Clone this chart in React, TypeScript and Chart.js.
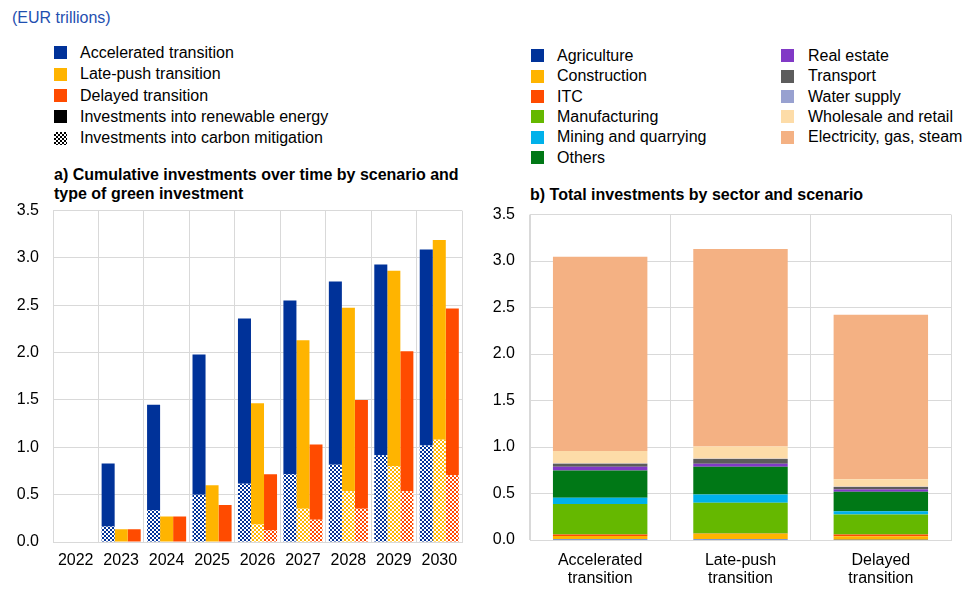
import React, { useEffect, useRef } from "react";
import { Chart, registerables } from "chart.js";

Chart.register(...registerables);

// ---------- Panel a data ----------
const years = ["2022", "2023", "2024", "2025", "2026", "2027", "2028", "2029", "2030"];
const accelCarbon = [0, 0.165, 0.335, 0.5, 0.615, 0.715, 0.815, 0.915, 1.02];
const accelRenewable = [0, 0.665, 1.115, 1.48, 1.745, 1.835, 1.935, 2.015, 2.07];
const lateCarbon = [0, 0, 0, 0, 0.185, 0.35, 0.535, 0.8, 1.08];
const lateRenewable = [0, 0.135, 0.27, 0.6, 1.28, 1.78, 1.94, 2.065, 2.11];
const delayedCarbon = [0, 0, 0, 0, 0.125, 0.235, 0.35, 0.535, 0.705];
const delayedRenewable = [0, 0.135, 0.27, 0.39, 0.59, 0.795, 1.15, 1.48, 1.76];

// ---------- Panel b data ----------
const scenarios = [["Accelerated", "transition"], ["Late-push", "transition"], ["Delayed", "transition"]];
const agriculture = [0.011, 0.012, 0.004];
const construction = [0.032, 0.055, 0.036];
const itc = [0.017, 0.003, 0.018];
const manufacturing = [0.327, 0.33, 0.217];
const mining = [0.067, 0.089, 0.035];
const others = [0.294, 0.3, 0.208];
const realEstate = [0.039, 0.032, 0.024];
const transport = [0.032, 0.049, 0.028];
const waterSupply = [0.003, 0.003, 0.003];
const wholesale = [0.135, 0.132, 0.081];
const electricity = [2.09, 2.125, 1.768];

const yTicks = [0, 0.5, 1, 1.5, 2, 2.5, 3, 3.5];

const BLUE = "#003299";
const YELLOW = "#ffb400";
const RED = "#ff4b00";
const FONT = "'Liberation Sans', Arial, Helvetica, sans-serif";
const GRID = "#d9d9d9";

function checker(color: string): CanvasPattern | string {
  const c = document.createElement("canvas");
  c.width = 4;
  c.height = 4;
  const ctx = c.getContext("2d");
  if (!ctx) return color;
  ctx.fillStyle = "#ffffff";
  ctx.fillRect(0, 0, 4, 4);
  ctx.fillStyle = color;
  ctx.fillRect(0, 0, 2, 2);
  ctx.fillRect(2, 2, 2, 2);
  const p = ctx.createPattern(c, "repeat");
  return p || color;
}

function yScale(width: number, padding: number) {
  return {
    stacked: true,
    min: 0,
    max: 3.5,
    afterBuildTicks: (s: any) => {
      s.ticks = yTicks.map((v) => ({ value: v }));
    },
    afterFit: (s: any) => {
      s.width = width;
    },
    ticks: {
      padding,
      color: "#000",
      font: { family: FONT, size: 16 },
      callback: (v: any) => Number(v).toFixed(1),
    },
    grid: { color: GRID, lineWidth: 1, drawTicks: false },
    border: { color: GRID, width: 1 },
  };
}

function xScale(height: number, padding: number) {
  return {
    stacked: true,
    afterFit: (s: any) => {
      s.height = height;
    },
    ticks: {
      padding,
      color: "#000",
      maxRotation: 0,
      autoSkip: false,
      font: { family: FONT, size: 16, lineHeight: 1.12 },
    },
    grid: { color: GRID, lineWidth: 1, drawTicks: false, offset: true },
    border: { color: GRID, width: 1 },
  };
}

function PanelA() {
  const ref = useRef<HTMLCanvasElement>(null);
  useEffect(() => {
    if (!ref.current) return;
    const mk = (label: string, data: number[], bg: any, stack: string) => ({
      label,
      data,
      backgroundColor: bg,
      stack,
      borderWidth: 0,
      barPercentage: 1,
      categoryPercentage: 0.86,
    });
    const chart = new Chart(ref.current, {
      type: "bar",
      data: {
        labels: years,
        datasets: [
          mk("Accelerated – carbon mitigation", accelCarbon, checker(BLUE), "acc"),
          mk("Accelerated – renewable energy", accelRenewable, BLUE, "acc"),
          mk("Late-push – carbon mitigation", lateCarbon, checker(YELLOW), "late"),
          mk("Late-push – renewable energy", lateRenewable, YELLOW, "late"),
          mk("Delayed – carbon mitigation", delayedCarbon, checker(RED), "del"),
          mk("Delayed – renewable energy", delayedRenewable, RED, "del"),
        ],
      },
      options: {
        animation: false,
        responsive: false,
        devicePixelRatio: 1,
        layout: { padding: { top: 9, right: 8, left: 0, bottom: 0 } },
        plugins: { legend: { display: false }, tooltip: { enabled: false } },
        scales: { x: xScale(61, 10), y: yScale(53, 14) } as any,
      },
    });
    return () => chart.destroy();
  }, []);
  return <canvas ref={ref} width={470} height={416} style={{ position: "absolute", left: 0, top: 187 }} />;
}

function PanelB() {
  const ref = useRef<HTMLCanvasElement>(null);
  useEffect(() => {
    if (!ref.current) return;
    const mk = (label: string, data: number[], bg: string) => ({
      label,
      data,
      backgroundColor: bg,
      borderWidth: 0,
      barPercentage: 0.673,
      categoryPercentage: 1,
    });
    const chart = new Chart(ref.current, {
      type: "bar",
      data: {
        labels: scenarios as any,
        datasets: [
          mk("Agriculture", agriculture, "#003299"),
          mk("Construction", construction, "#ffb400"),
          mk("ITC", itc, "#ff4b00"),
          mk("Manufacturing", manufacturing, "#65b800"),
          mk("Mining and quarrying", mining, "#00b1ea"),
          mk("Others", others, "#007816"),
          mk("Real estate", realEstate, "#8139c6"),
          mk("Transport", transport, "#5c5c5c"),
          mk("Water supply", waterSupply, "#98a1d0"),
          mk("Wholesale and retail", wholesale, "#fddca8"),
          mk("Electricity, gas, steam", electricity, "#f4b183"),
        ],
      },
      options: {
        animation: false,
        responsive: false,
        devicePixelRatio: 1,
        layout: { padding: { top: 9, right: 23, left: 0, bottom: 0 } },
        plugins: { legend: { display: false }, tooltip: { enabled: false } },
        scales: { x: xScale(63, 12), y: yScale(50, 15) } as any,
      },
    });
    return () => chart.destroy();
  }, []);
  return <canvas ref={ref} width={494} height={413} style={{ position: "absolute", left: 480, top: 190 }} />;
}

const legendA = [
  { label: "Accelerated transition", bg: BLUE },
  { label: "Late-push transition", bg: YELLOW },
  { label: "Delayed transition", bg: RED },
  { label: "Investments into renewable energy", bg: "#000" },
  {
    label: "Investments into carbon mitigation",
    bg: "repeating-conic-gradient(#000 0 25%, #fff 0 50%) 0 0 / 4px 4px",
  },
];

const legendB1 = [
  { label: "Agriculture", bg: "#003299" },
  { label: "Construction", bg: "#ffb400" },
  { label: "ITC", bg: "#ff4b00" },
  { label: "Manufacturing", bg: "#65b800" },
  { label: "Mining and quarrying", bg: "#00b1ea" },
  { label: "Others", bg: "#007816" },
];
const legendB2 = [
  { label: "Real estate", bg: "#8139c6" },
  { label: "Transport", bg: "#5c5c5c" },
  { label: "Water supply", bg: "#98a1d0" },
  { label: "Wholesale and retail", bg: "#fddca8" },
  { label: "Electricity, gas, steam", bg: "#f4b183" },
];

function Legend({ items, left, top, gap, textLeft }: any) {
  return (
    <>
      {items.map((it: any, i: number) => (
        <div
          key={it.label}
          style={{ position: "absolute", left, top: top + i * gap - 10, height: 20, width: 300 }}
        >
          <div
            style={{
              position: "absolute",
              left: 0,
              top: 3.5,
              width: 13,
              height: 13,
              background: it.bg,
            }}
          />
          <div
            style={{
              position: "absolute",
              left: textLeft,
              top: 0,
              lineHeight: "20px",
              fontSize: 16,
              whiteSpace: "nowrap",
              color: "#000",
            }}
          >
            {it.label}
          </div>
        </div>
      ))}
    </>
  );
}

export default function App() {
  return (
    <div
      style={{
        position: "fixed",
        left: 0,
        top: 0,
        width: 974,
        height: 603,
        background: "#fff",
        fontFamily: FONT,
        overflow: "hidden",
      }}
    >
      <div style={{ position: "absolute", left: 12, top: 8, fontSize: 16, lineHeight: "20px", color: "#1f4fb0" }}>
        (EUR trillions)
      </div>
      <Legend items={legendA} left={54} top={52.7} gap={21.4} textLeft={26} />
      <div
        style={{
          position: "absolute",
          left: 54,
          top: 165,
          fontSize: 16,
          lineHeight: "19px",
          fontWeight: "bold",
          color: "#000",
          whiteSpace: "nowrap",
        }}
      >
        a) Cumulative investments over time by scenario and
        <br />
        type of green investment
      </div>
      <Legend items={legendB1} left={531} top={55.7} gap={20.4} textLeft={26} />
      <Legend items={legendB2} left={781} top={55.7} gap={20.4} textLeft={27} />
      <div
        style={{
          position: "absolute",
          left: 530,
          top: 185,
          fontSize: 16,
          lineHeight: "20px",
          fontWeight: "bold",
          color: "#000",
          whiteSpace: "nowrap",
        }}
      >
        b) Total investments by sector and scenario
      </div>
      <PanelA />
      <PanelB />
    </div>
  );
}
